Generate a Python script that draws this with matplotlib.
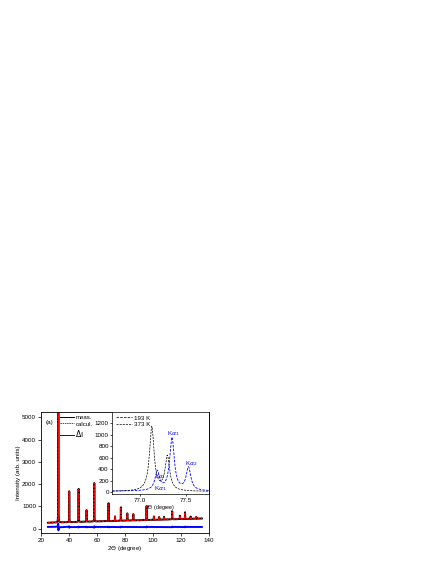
import numpy as np
import matplotlib.pyplot as plt

plt.rcParams['font.family'] = ['Liberation Sans', 'DejaVu Sans']
plt.rcParams['font.size'] = 4.5

# main pattern: peak positions (deg) and heights above background
peak_pos = [32.4, 40.2, 46.9, 52.6, 58.1, 68.3, 72.9, 77.1, 81.7, 86.0, 95.5,
            100.7, 104.5, 108.0, 113.8, 119.3, 123.0, 127.0, 131.0]
peak_h = [5600, 1380, 1480, 520, 1720, 800, 200, 600, 320, 280, 620,
          150, 120, 120, 360, 150, 300, 100, 80]
bg_start, bg_end = 270, 460          # background at 25 and 135 deg
diff_level = 80                      # offset of the difference curve
diff_amp = [-300, -60, 40, -30, 60, -30, 0, 30, 0, 0, 40, 0, 0, 0, 30, 0, 30, 0, 0]

# inset: 193 K and 373 K peaks (pos, height)
k193_pos = [77.19, 77.35, 77.53]
k193_h = [330, 920, 400]
k373_pos = [77.13, 77.30]
k373_h = [1120, 600]

x = np.arange(25, 135.01, 0.02)
bg = bg_start + (bg_end - bg_start) * (x - 25) / 110
calc = bg.copy()
diff = np.full_like(x, diff_level, dtype=float)
for p, h, d in zip(peak_pos, peak_h, diff_amp):
    calc += h / (1 + ((x - p) / 0.06) ** 2)
    diff += d * (x - p) / 0.06 / (1 + ((x - p) / 0.06) ** 2)
meas = calc

fig = plt.figure(figsize=(4.36, 5.64), dpi=100)
ax = fig.add_axes([0.094, 0.055, 0.385, 0.2145])
ax.plot(x, meas, color='black', lw=1.4, label='meas.')
ax.plot(x, calc, color='red', lw=1.1, ls=(0, (1.5, 0.8)), label='calcul.')
ax.plot(x, diff, color='blue', lw=1.4, label=r'$\Delta$I')
ax.set_xlim(20, 140)
ax.set_ylim(-190, 5240)
ax.set_xticks(range(20, 141, 20))
ax.set_yticks(range(0, 5001, 1000))
ax.tick_params(direction='out', length=2, width=0.5, pad=1.5)
for s in ax.spines.values():
    s.set_linewidth(0.6)
ax.set_xlabel(r'2$\Theta$ (degree)', labelpad=1)
ax.set_ylabel('Intensity (arb. units)', labelpad=1)
ax.text(0.025, 0.9, '(a)', transform=ax.transAxes)
leg = ax.legend(loc='upper left', bbox_to_anchor=(0.08, 1.02), frameon=False,
                handlelength=2.3, handletextpad=0.3, labelspacing=0.2, fontsize=4.3)
for line in leg.get_lines():
    line.set_linewidth(0.7)
leg.get_texts()[2].set_fontsize(5.5)

ins = fig.add_axes([0.2576, 0.124, 0.221, 0.1455])
xi = np.arange(76.7, 77.76, 0.002)
y193 = np.full_like(xi, 20.0)
for p, h in zip(k193_pos, k193_h):
    y193 += h / (1 + ((xi - p) / 0.03) ** 2)
y373 = np.full_like(xi, 15.0)
for p, h in zip(k373_pos, k373_h):
    y373 += h / (1 + ((xi - p) / 0.03) ** 2)
ins.plot(xi, y193, color='blue', ls=(0, (3, 1.5)), lw=0.6, label='193 K')
ins.plot(xi, y373, color='black', ls=(0, (3, 1.5)), lw=0.5, label='373 K')
ins.set_xlim(76.7, 77.75)
ins.set_ylim(-30, 1400)
ins.set_xticks([77.0, 77.5])
ins.set_xticklabels(['77.0', '77.5'])
ins.set_yticks(range(0, 1201, 200))
ins.tick_params(direction='out', length=1.5, width=0.5, pad=1, labelsize=4.5)
for s in ins.spines.values():
    s.set_linewidth(0.5)
ins.set_xlabel(r'2$\Theta$ (degree)', fontsize=3.8, labelpad=0)
ins.legend(loc='upper left', bbox_to_anchor=(-0.02, 1.03), frameon=False,
           handlelength=2.5, handletextpad=0.4, labelspacing=0.15, fontsize=4.5)
ins.text(77.37, 1000, r'K$\alpha_1$', color='blue', ha='center', fontsize=4.5)
ins.text(77.56, 480, r'K$\alpha_2$', color='blue', ha='center', fontsize=4.5)
ins.text(77.23, 250, r'K$\alpha_2$', color='blue', ha='center', fontsize=3.8)
ins.text(77.22, 40, r'K$\alpha_1$', color='blue', ha='center', fontsize=4.5)

fig.savefig('out.png', dpi=100)
